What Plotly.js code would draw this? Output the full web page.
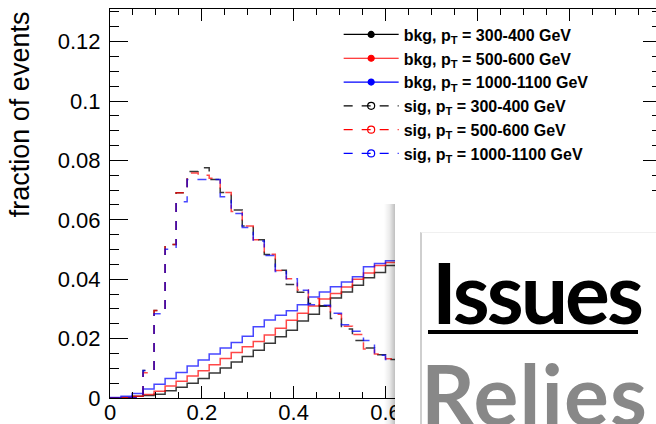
<!DOCTYPE html>
<html>
<head>
<meta charset="utf-8">
<script src="https://cdn.plot.ly/plotly-3.0.1.min.js"></script>
<style>
  html, body { margin: 0; padding: 0; width: 656px; height: 424px; overflow: hidden; background: #fff; }
  #wrap { position: relative; width: 656px; height: 424px; overflow: hidden; }
  #chart { position: absolute; left: 0; top: 0; width: 670px; height: 424px; }
  #shadow { position: absolute; left: 384px; top: 204px; width: 11px; height: 230px;
            background: linear-gradient(to right, rgba(0,0,0,0), rgba(0,0,0,0.08) 50%, rgba(0,0,0,0.25)); }
  #slide { position: absolute; left: 395px; top: 204px; width: 300px; height: 240px; background: #fff; }
  #panel { position: absolute; left: 420px; top: 232px; width: 300px; height: 240px; background: #fff;
           border-left: 2px solid #cfcfcf; border-top: 1px solid #f0f0f0; }
  .big { position: absolute; font-family: Lato, "Open Sans", sans-serif; font-weight: 700;
         line-height: 1; white-space: nowrap; }
  #issues { left: 432px; top: 250px; font-size: 84px; color: #000; letter-spacing: -3px; }
  #uline { position: absolute; left: 428px; top: 330px; width: 210px; height: 4px; background: #000; }
  #relies { left: 421px; top: 352px; font-size: 84px; color: #888888; letter-spacing: 1.2px; }
</style>
</head>
<body>
<div id="wrap">
  <div id="chart"></div>
  <div id="shadow"></div>
  <div id="slide"></div>
  <div id="panel"></div>
  <div id="issues" class="big">Issues</div>
  <div id="uline"></div>
  <div id="relies" class="big">Relies</div>
</div>
<script>
// histogram binning (x axis): 50 bins of width 0.024 from 0
const binLow = 0;
const binWidth = 0.024;

// background, fraction of events per bin
const bkg300 = [0.0000, 0.0002, 0.0006, 0.0008, 0.0013, 0.0024, 0.0036, 0.0050, 0.0066, 0.0084,
                0.0101, 0.0121, 0.0140, 0.0161, 0.0184, 0.0206, 0.0228, 0.0259, 0.0282, 0.0310,
                0.0337, 0.0357, 0.0380, 0.0405, 0.0423, 0.0446, 0.0468, 0.0489, 0.0508, 0.0524,
                0.0536, 0.0544, 0.0547, 0.0543, 0.0530, 0.0505, 0.0465, 0.0410, 0.0340, 0.0262,
                0.0185, 0.0118, 0.0068, 0.0035, 0.0016, 0.0007, 0.0003, 0.0001, 0.0000, 0.0000];
const bkg500 = [0.0000, 0.0002, 0.0006, 0.0012, 0.0023, 0.0040, 0.0056, 0.0074, 0.0092, 0.0112,
                0.0133, 0.0153, 0.0173, 0.0190, 0.0212, 0.0235, 0.0262, 0.0285, 0.0310, 0.0333,
                0.0352, 0.0374, 0.0400, 0.0421, 0.0446, 0.0456, 0.0472, 0.0487, 0.0500, 0.0510,
                0.0516, 0.0518, 0.0515, 0.0505, 0.0487, 0.0460, 0.0422, 0.0372, 0.0310, 0.0240,
                0.0172, 0.0112, 0.0066, 0.0035, 0.0017, 0.0008, 0.0003, 0.0001, 0.0000, 0.0000];
const bkg1000 = [0.0002, 0.0006, 0.0015, 0.0030, 0.0046, 0.0066, 0.0086, 0.0108, 0.0128, 0.0148,
                 0.0168, 0.0187, 0.0208, 0.0240, 0.0263, 0.0279, 0.0294, 0.0314, 0.0340, 0.0357,
                 0.0375, 0.0391, 0.0408, 0.0442, 0.0453, 0.0462, 0.0470, 0.0478, 0.0484, 0.0488,
                 0.0489, 0.0486, 0.0478, 0.0465, 0.0446, 0.0420, 0.0385, 0.0340, 0.0285, 0.0222,
                 0.0160, 0.0106, 0.0064, 0.0035, 0.0017, 0.0008, 0.0003, 0.0001, 0.0000, 0.0000];
// signal
const sig300 = [0.0000, 0.0000, 0.0001, 0.0093, 0.0295, 0.0517, 0.0691, 0.0763, 0.0775, 0.0736,
                0.0692, 0.0633, 0.0579, 0.0533, 0.0483, 0.0430, 0.0382, 0.0356, 0.0318, 0.0310,
                0.0268, 0.0232, 0.0194, 0.0168, 0.0146, 0.0130, 0.0112, 0.0094, 0.0076, 0.0060,
                0.0046, 0.0034, 0.0024, 0.0016, 0.0010, 0.0006, 0.0003, 0.0002, 0.0001, 0.0000,
                0.0000, 0.0000, 0.0000, 0.0000, 0.0000, 0.0000, 0.0000, 0.0000, 0.0000, 0.0000];
const sig500 = [0.0000, 0.0000, 0.0001, 0.0085, 0.0295, 0.0517, 0.0691, 0.0758, 0.0750, 0.0740,
                0.0692, 0.0628, 0.0579, 0.0533, 0.0484, 0.0429, 0.0402, 0.0364, 0.0335, 0.0310,
                0.0282, 0.0242, 0.0214, 0.0165, 0.0148, 0.0132, 0.0114, 0.0095, 0.0077, 0.0061,
                0.0047, 0.0035, 0.0025, 0.0017, 0.0011, 0.0006, 0.0003, 0.0002, 0.0001, 0.0000,
                0.0000, 0.0000, 0.0000, 0.0000, 0.0000, 0.0000, 0.0000, 0.0000, 0.0000, 0.0000];
const sig1000 = [0.0000, 0.0000, 0.0001, 0.0093, 0.0284, 0.0501, 0.0661, 0.0736, 0.0736, 0.0736,
                 0.0678, 0.0621, 0.0574, 0.0529, 0.0480, 0.0426, 0.0402, 0.0363, 0.0314, 0.0312,
                 0.0285, 0.0247, 0.0225, 0.0194, 0.0144, 0.0130, 0.0113, 0.0096, 0.0079, 0.0063,
                 0.0049, 0.0036, 0.0026, 0.0018, 0.0011, 0.0007, 0.0004, 0.0002, 0.0001, 0.0000,
                 0.0000, 0.0000, 0.0000, 0.0000, 0.0000, 0.0000, 0.0000, 0.0000, 0.0000, 0.0000];

const seriesNames = ['bkg, p<sub>T</sub> = 300-400 GeV', 'bkg, p<sub>T</sub> = 500-600 GeV',
                     'bkg, p<sub>T</sub> = 1000-1100 GeV', 'sig, p<sub>T</sub> = 300-400 GeV',
                     'sig, p<sub>T</sub> = 500-600 GeV', 'sig, p<sub>T</sub> = 1000-1100 GeV'];
const seriesData = [bkg300, bkg500, bkg1000, sig300, sig500, sig1000];
const lineColors = ['rgba(0,0,0,0.78)', 'rgba(255,0,0,0.72)', 'rgba(0,0,255,0.72)',
                    'rgba(0,0,0,0.78)', 'rgba(255,0,0,0.72)', 'rgba(0,0,255,0.72)'];
const legendColors = ['#000000', '#ff0000', '#0000ff', '#000000', '#ff0000', '#0000ff'];
const dashes = ['solid', 'solid', 'solid', 'dash', 'dash', 'dash'];
const xTicks = [0, 0.2, 0.4, 0.6, 0.8, 1, 1.2];
const xTickText = ['0', '0.2', '0.4', '0.6', '', '', ''];   // labels past 0.6 sit under the slide panel

function stepTrace(vals, k) {
  const xs = vals.map((_, i) => binLow + i * binWidth);
  xs.push(binLow + vals.length * binWidth);
  const ys = vals.concat([vals[vals.length - 1]]);
  return {
    type: 'scatter', mode: 'lines', x: xs, y: ys, showlegend: false, hoverinfo: 'skip',
    line: { shape: 'hv', color: lineColors[k], width: 1.5, dash: dashes[k] }
  };
}

const traces = seriesData.map((v, k) => stepTrace(v, k));
// legend-only entries (line + marker glyph as in the original legend)
seriesNames.forEach((name, k) => {
  traces.push({
    type: 'scatter', mode: 'lines+markers', x: [null], y: [null], name: name,
    line: { color: legendColors[k], width: 1.2, dash: dashes[k] },
    marker: { color: legendColors[k], size: k < 3 ? 6 : 7,
              symbol: k < 3 ? 'circle' : 'circle-open', line: { color: legendColors[k], width: 1.2 } }
  });
});

const axisFont = { family: '"Liberation Sans", Arial, Helvetica, sans-serif', size: 22, color: '#000' };

const layout = {
  width: 670, height: 424,
  margin: { l: 110, r: 8.6, t: 9, b: 26.4 },
  paper_bgcolor: '#fff', plot_bgcolor: '#fff',
  showlegend: true,
  legend: {
    x: 0.415, y: 0.978, xanchor: 'left', yanchor: 'top',
    bgcolor: 'rgba(255,255,255,0)', borderwidth: 0,
    font: { family: '"Liberation Sans", Arial, Helvetica, sans-serif', size: 16, weight: 'bold', color: '#000' },
    itemwidth: 55, tracegroupgap: 0
  },
  xaxis: {
    range: [0, 1.2], tickvals: xTicks, ticktext: xTickText, ticks: 'inside', ticklen: 12, tickwidth: 1, tickcolor: '#000',
    minor: { dtick: 0.05, ticklen: 6, tickcolor: '#000', ticks: 'inside' },
    showline: true, linecolor: '#000', linewidth: 1, mirror: 'ticks',
    showgrid: false, zeroline: false, tickfont: axisFont, ticklabelstandoff: -5, automargin: false
  },
  yaxis: {
    range: [0, 0.131], dtick: 0.02, tick0: 0, ticks: 'inside', ticklen: 18, tickwidth: 1, tickcolor: '#000',
    minor: { dtick: 0.005, ticklen: 9, tickcolor: '#000', ticks: 'inside' },
    showline: true, linecolor: '#000', linewidth: 1, mirror: 'ticks',
    showgrid: false, zeroline: false, tickfont: axisFont, ticklabelstandoff: 4, automargin: false
  },
  annotations: [{
    text: 'fraction of events', textangle: -90, xref: 'paper', yref: 'paper',
    x: -0.163, y: 1.0, xanchor: 'center', yanchor: 'top', showarrow: false,
    font: { family: '"Liberation Sans", Arial, Helvetica, sans-serif', size: 27, color: '#000' }
  }]
};

Plotly.newPlot('chart', traces, layout, { staticPlot: true, displayModeBar: false });
</script>
</body>
</html>
